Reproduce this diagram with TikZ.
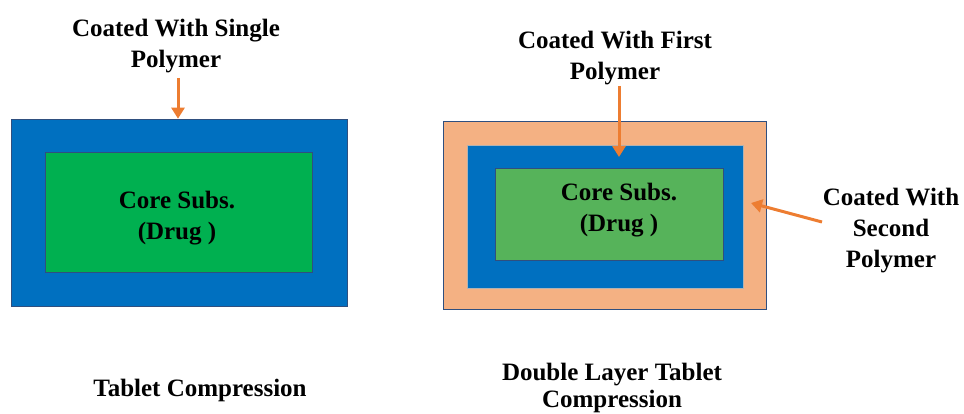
\documentclass[tikz,border=0pt]{standalone}
\usepackage{fontspec}
\setmainfont{Liberation Serif}
\usetikzlibrary{arrows.meta}
\definecolor{coatblue}{HTML}{0070C0}
\definecolor{coregreen}{HTML}{00B050}
\definecolor{coregreenlt}{HTML}{56B35A}
\definecolor{peach}{HTML}{F4B183}
\definecolor{arrowor}{HTML}{ED7D31}
\definecolor{edgecol}{HTML}{2F4F7F}
\tikzset{
  layer/.style={draw=edgecol, line width=0.6pt, inner sep=0pt, rectangle},
  lbl/.style={font=\fontsize{25}{31}\selectfont\bfseries, align=center, inner sep=0pt},
  arr/.style={draw=arrowor, line width=3pt, -{Triangle[length=11pt,width=13pt]}}
}
\begin{document}
\begin{tikzpicture}[x=1pt,y=-1pt]
\useasboundingbox (0,0) rectangle (964,414);
% left tablet
\node[layer, fill=coatblue, minimum width=336pt, minimum height=187pt] (outerL) at (179,212.5) {};
\node[layer, fill=coregreen, minimum width=267pt, minimum height=120pt] (coreL) at (178.5,212) {};
\node[lbl] (coretxtL) at (177,218) {Core Subs.\\(Drug )};
\node[lbl] (labelL) at (176,46) {Coated With Single\\Polymer};
\coordinate (aLs) at (178,78);
\draw[arr] (aLs) -- (aLs |- outerL.north);
\node[lbl] (bottomL) at (200,390) {Tablet Compression};
% right tablet
\node[layer, fill=peach, minimum width=323pt, minimum height=188pt] (outerR) at (604.5,215) {};
\node[layer, fill=coatblue, draw=gray!60, minimum width=276pt, minimum height=143pt] (midR) at (605,216.5) {};
\node[layer, fill=coregreenlt, minimum width=228pt, minimum height=92pt] (coreR) at (609,214) {};
\node[lbl] (coretxtR) at (619,210) {Core Subs.\\(Drug )};
\node[lbl] (labelR1) at (615,58) {Coated With First\\Polymer};
\coordinate (aR1s) at (619,86);
\coordinate (aR1e) at (619,157);
\draw[arr] (aR1s) -- (aR1e);
\node[lbl] (labelR2) at (891,231) {Coated With\\Second\\Polymer};
\coordinate (aR2s) at (822,222);
\coordinate (aR2e) at (751,203);
\draw[arr] (aR2s) -- (aR2e);
\node[lbl, font=\fontsize{25}{27}\selectfont\bfseries] (bottomR) at (612,388) {Double Layer Tablet\\Compression};
\end{tikzpicture}
\end{document}
